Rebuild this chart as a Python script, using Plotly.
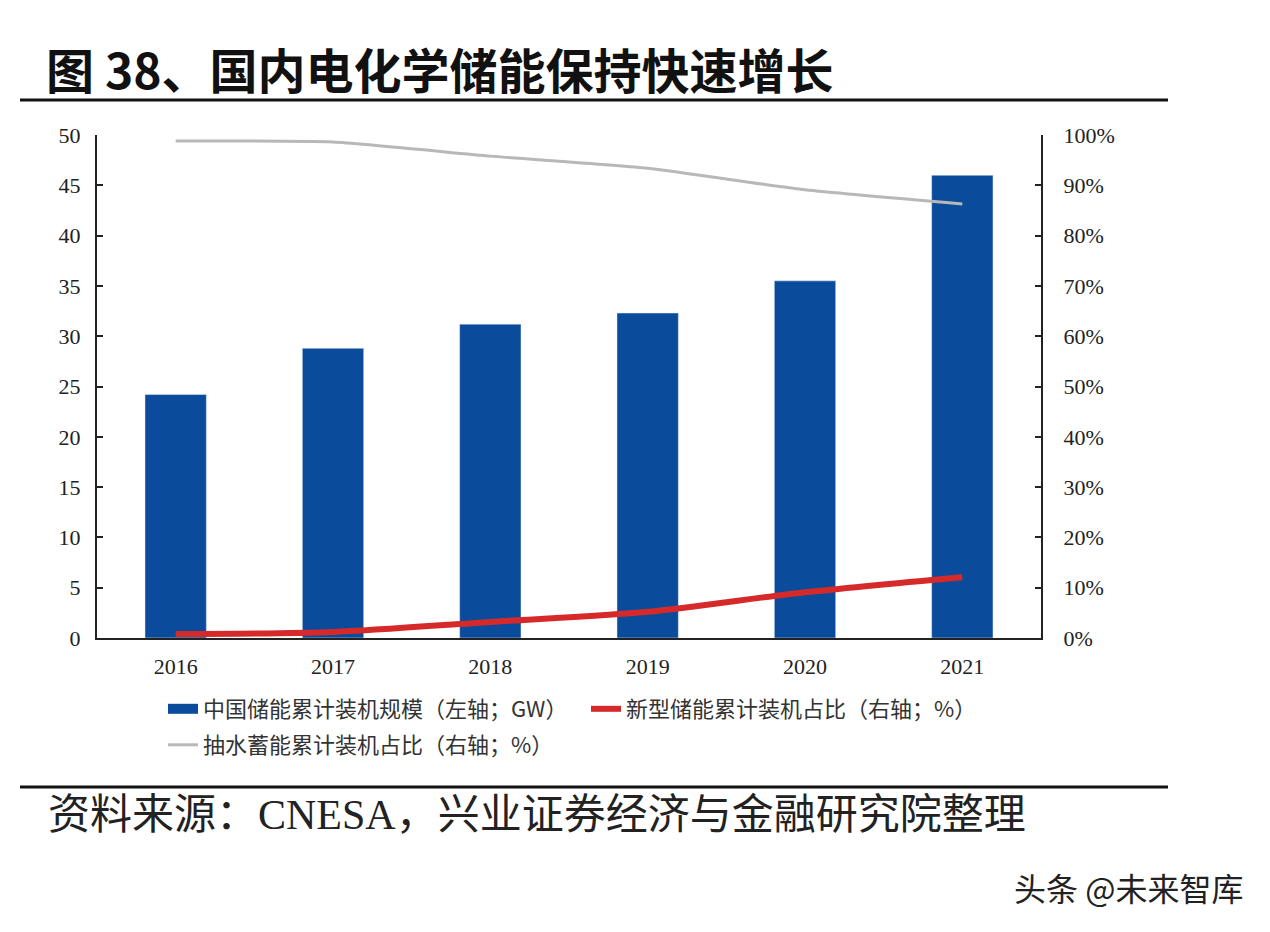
import plotly.graph_objects as go

years = ["2016", "2017", "2018", "2019", "2020", "2021"]
total_gw = [24.2, 28.8, 31.2, 32.3, 35.5, 46.0]
new_share = [0.008, 0.012, 0.032, 0.052, 0.091, 0.121]
pumped_share = [0.988, 0.986, 0.958, 0.934, 0.891, 0.863]

title_text = "图 38、国内电化学储能保持快速增长"
source_text = "资料来源：CNESA，兴业证券经济与金融研究院整理"
watermark_text = "头条 @未来智库"
name_bar = "中国储能累计装机规模（左轴；GW）"
name_red = "新型储能累计装机占比（右轴；%）"
name_gray = "抽水蓄能累计装机占比（右轴；%）"

OFF = 8  # default page body margin
W, H = 1254, 916
# plot area in page pixels
PL, PR, PT, PB = 97, 1041, 135, 638
L, R, T, B = PL - OFF, PR - OFF, PT - OFF, PB - OFF
SERIF = "Liberation Serif, Times New Roman, Noto Sans CJK SC, serif"
CJK = "Noto Sans CJK SC, sans-serif"
BLUE = "#0a4b9b"


def px(x):
    return (x - PL) / (PR - PL)


def py(y):
    return (PB - y) / (PB - PT)


fig = go.Figure()
fig.add_trace(go.Bar(x=years, y=total_gw, name=name_bar, marker_color=BLUE,
                     width=0.39, yaxis="y", showlegend=False))
# legend entry for the bars drawn as a wide block, as in the source
fig.add_trace(go.Scatter(x=[None], y=[None], name=name_bar, mode="lines",
                         line=dict(color=BLUE, width=12), yaxis="y", legend="legend"))
fig.add_trace(go.Scatter(x=years, y=new_share, name=name_red, mode="lines",
                         line=dict(color="#d62a2a", width=6, shape="spline", smoothing=0.8),
                         yaxis="y2", legend="legend"))
fig.add_trace(go.Scatter(x=years, y=pumped_share, name=name_gray, mode="lines",
                         line=dict(color="#b8b8b8", width=3, shape="spline", smoothing=0.5),
                         yaxis="y2", legend="legend2"))

tickfont = dict(family=SERIF, size=22, color="#222")
legfont = dict(family=CJK, size=22, color="#333")

fig.update_layout(
    width=W, height=H,
    margin=dict(l=L, r=W - R, t=T, b=H - B, pad=0),
    paper_bgcolor="white", plot_bgcolor="white",
    font=dict(family=SERIF, size=19, color="#222"),
    xaxis=dict(type="category", range=[-0.5, 5.5], showline=True, linecolor="#222",
               linewidth=2, ticks="", showgrid=False, zeroline=False,
               tickfont=tickfont, ticklabelstandoff=8),
    yaxis=dict(range=[0, 50], dtick=5, showline=True, linecolor="#222", linewidth=2,
               ticks="inside", ticklen=6, tickcolor="#222", tickwidth=2, showgrid=False,
               zeroline=False, tickfont=tickfont, ticklabelstandoff=10),
    yaxis2=dict(range=[0, 1], dtick=0.1, tickformat=".0%", overlaying="y", side="right",
                showline=True, linecolor="#222", linewidth=2, ticks="inside", ticklen=6,
                tickcolor="#222", tickwidth=2, showgrid=False, zeroline=False,
                tickfont=tickfont, ticklabelstandoff=16),
    legend=dict(orientation="h", x=px(163), xanchor="left", y=py(709), yanchor="middle",
                font=legfont, entrywidth=378, traceorder="normal",
                bgcolor="rgba(0,0,0,0)"),
    legend2=dict(orientation="h", x=px(163), xanchor="left", y=py(745), yanchor="middle",
                 font=legfont, bgcolor="rgba(0,0,0,0)"),
    showlegend=True,
)

fig.add_annotation(text="<b>" + title_text + "</b>", xref="paper", yref="paper",
                   x=px(44), y=py(68), xanchor="left", yanchor="middle", showarrow=False,
                   font=dict(family=CJK, size=48, color="#111", weight=900))
fig.add_annotation(text=source_text, xref="paper", yref="paper",
                   x=px(46), y=py(815), xanchor="left", yanchor="middle", showarrow=False,
                   font=dict(family=SERIF, size=42, color="#222"))
fig.add_annotation(text=watermark_text, xref="paper", yref="paper",
                   x=px(1245), y=py(887), xanchor="right", yanchor="middle", showarrow=False,
                   font=dict(family=CJK, size=32, color="#222"))

for yline in (100, 787):
    fig.add_shape(type="line", xref="paper", yref="paper", x0=px(20), x1=px(1168),
                  y0=py(yline), y1=py(yline), line=dict(color="#111", width=3))

fig.write_html("out.html")
